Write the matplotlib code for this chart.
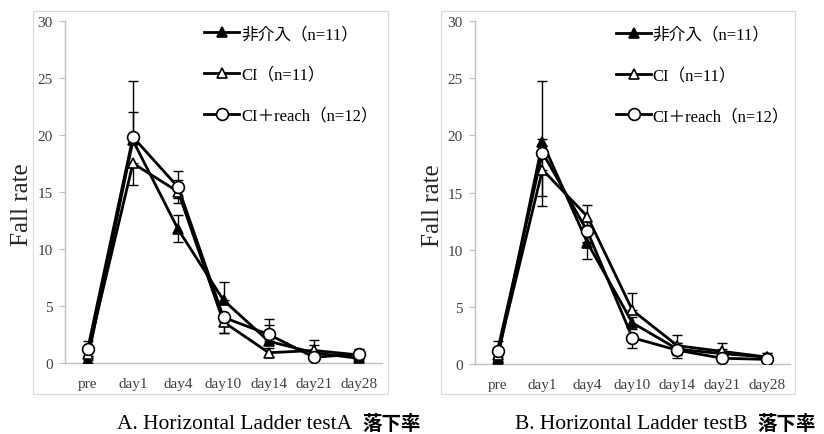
import matplotlib
matplotlib.use("Agg")
import matplotlib.pyplot as plt
from matplotlib.patches import Rectangle

plt.rcParams['font.family'] = ['Liberation Serif', 'Noto Sans CJK JP', 'DejaVu Sans']

categories = ["pre", "day1", "day4", "day10", "day14", "day21", "day28"]
series_labels = ["非介入（n=11）", "CI（n=11）", "CI＋reach（n=12）"]

# Panel A
a_non = [0.3, 19.5, 11.7, 5.5, 1.9, 0.9, 0.4]
a_non_lo = [0.3, 0.0, 1.1, 0.0, 0.0, 0.0, 0.2]
a_non_hi = [0.3, 2.5, 1.3, 1.6, 1.4, 1.1, 0.4]
a_ci = [0.8, 17.5, 15.0, 3.6, 0.9, 1.1, 0.7]
a_ci_lo = [0.5, 1.9, 1.0, 1.0, 0.4, 0.5, 0.3]
a_ci_hi = [0.5, 0.0, 1.0, 0.0, 0.4, 0.5, 0.3]
a_reach = [1.2, 19.8, 15.4, 4.0, 2.5, 0.5, 0.8]
a_reach_lo = [0.6, 0.0, 0.9, 1.4, 0.4, 0.2, 0.3]
a_reach_hi = [0.7, 4.9, 1.4, 0.0, 1.4, 0.3, 0.4]

# Panel B
b_non = [0.45, 19.4, 10.6, 3.6, 1.3, 0.9, 0.6]
b_non_lo = [0.3, 0.3, 1.4, 0.5, 0.5, 0.4, 0.3]
b_non_hi = [0.3, 0.3, 0.0, 0.5, 0.5, 0.4, 0.4]
b_ci = [0.8, 17.0, 12.9, 4.7, 1.6, 1.1, 0.6]
b_ci_lo = [0.5, 3.2, 0.8, 0.0, 0.5, 0.4, 0.2]
b_ci_hi = [0.5, 0.0, 1.0, 1.5, 0.9, 0.7, 0.4]
b_reach = [1.15, 18.5, 11.6, 2.3, 1.2, 0.5, 0.4]
b_reach_lo = [0.5, 3.8, 0.9, 0.9, 0.7, 0.2, 0.2]
b_reach_hi = [0.85, 6.3, 0.9, 0.0, 0.6, 0.3, 0.3]

panels = [
    dict(rect=[0.0789, 0.1632, 0.3847, 0.787],
         data=[(a_non, a_non_lo, a_non_hi), (a_ci, a_ci_lo, a_ci_hi), (a_reach, a_reach_lo, a_reach_hi)],
         leg_x=0.44),
    dict(rect=[0.5765, 0.161, 0.382, 0.788],
         data=[(b_non, b_non_lo, b_non_hi), (b_ci, b_ci_lo, b_ci_hi), (b_reach, b_reach_lo, b_reach_hi)],
         leg_x=0.448),
]

styles = [
    dict(marker='^', mfc='black', mec='black', ms=7),
    dict(marker='^', mfc='white', mec='black', ms=7),
    dict(marker='o', mfc='white', mec='black', ms=8.5),
]

fig = plt.figure(figsize=(8.24, 4.35), dpi=100)
fig.patch.set_facecolor('white')

# panel frames
for (x0, x1) in [(33, 388), (441, 795)]:
    fig.patches.append(Rectangle((x0 / 824, (435 - 395) / 435), (x1 - x0) / 824, 383 / 435,
                                 transform=fig.transFigure, fill=False,
                                 edgecolor='#d9d9d9', linewidth=0.8))

x = list(range(len(categories)))
for p in panels:
    ax = fig.add_axes(p['rect'])
    for (vals, lo, hi), st in zip(p['data'], styles):
        ax.errorbar(x, vals, yerr=[lo, hi], fmt='none', ecolor='black',
                    elinewidth=1.0, capsize=3.5, capthick=1.0, zorder=2)
    handles = []
    for (vals, lo, hi), st, lab in zip(p['data'], styles, series_labels):
        h, = ax.plot(x, vals, color='black', linewidth=2.0, marker=st['marker'],
                     markerfacecolor=st['mfc'], markeredgecolor=st['mec'],
                     markersize=st['ms'], markeredgewidth=1.2, label=lab, zorder=3)
        handles.append(h)
    ax.set_xlim(-0.5, 6.5)
    ax.set_ylim(0, 30)
    ax.set_yticks([0, 5, 10, 15, 20, 25, 30])
    ax.set_xticks(x)
    ax.set_xticklabels(categories)
    for s in ['top', 'right']:
        ax.spines[s].set_visible(False)
    for s in ['left', 'bottom']:
        ax.spines[s].set_color('#bfbfbf')
        ax.spines[s].set_linewidth(1.0)
    ax.tick_params(axis='y', direction='out', length=4, color='#bfbfbf',
                   labelsize=11, labelcolor='#404040', pad=5)
    ax.tick_params(axis='x', length=0, labelsize=11, labelcolor='#404040', pad=10)
    ax.set_ylabel('Fall rate', fontsize=18, color='#262626')
    ax.yaxis.set_label_coords(-0.1, 0.465)
    ax.legend(handles=handles, loc='upper left', bbox_to_anchor=(p['leg_x'], 0.984),
              frameon=False, fontsize=12, handlelength=2.1, handletextpad=0.1,
              labelspacing=1.48, borderaxespad=0, borderpad=0)

fig.text(352 / 824, 1 / 435, 'A. Horizontal Ladder testA', ha='right', va='bottom',
         fontsize=15.5, family=['Liberation Serif'])
fig.text(362 / 824, 1 / 435, '落下率', ha='left', va='bottom', fontsize=14,
         fontweight='bold', family=['Noto Sans CJK JP'])
fig.text(748 / 824, 1 / 435, 'B. Horizontal Ladder testB', ha='right', va='bottom',
         fontsize=15.5, family=['Liberation Serif'])
fig.text(757 / 824, 1 / 435, '落下率', ha='left', va='bottom', fontsize=14,
         fontweight='bold', family=['Noto Sans CJK JP'])

fig.savefig('out.png', dpi=100, facecolor='white')
